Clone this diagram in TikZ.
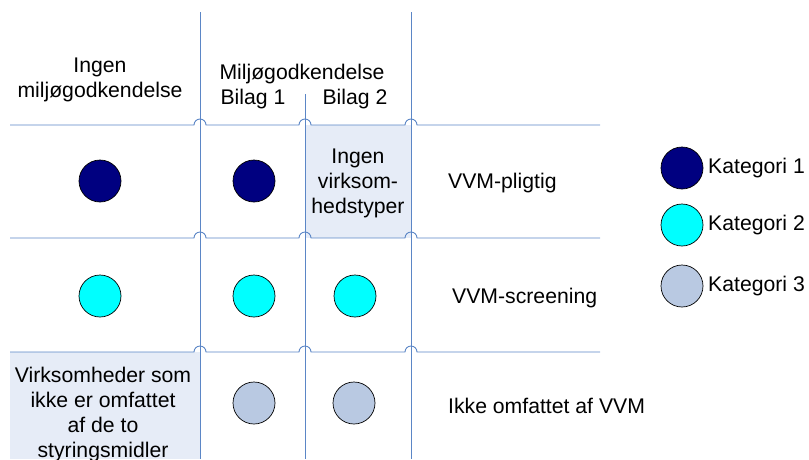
\documentclass[tikz,border=0pt]{standalone}
\usepackage{fontspec}
\setmainfont{Liberation Sans}
\definecolor{gridblue}{RGB}{91,134,198}
\definecolor{cellfill}{RGB}{230,236,247}
\definecolor{kat1}{RGB}{0,0,128}
\definecolor{kat2}{RGB}{0,255,255}
\definecolor{kat3}{RGB}{185,201,226}
\tikzset{
  gridline/.style={draw=gridblue, line width=0.9pt},
  dot/.style={circle, draw=black, line width=0.7pt, minimum size=42pt, inner sep=0pt},
  lbl/.style={inner sep=0pt, align=center, font=\fontsize{21.2}{25}\selectfont},
  shade/.style={fill=cellfill, draw=none}
}
\begin{document}
\begin{tikzpicture}[x=1pt, y=1pt]
\useasboundingbox (0,0) rectangle (809,-459);
\begin{scope}
\clip (0,0) rectangle (809,-459);

% shaded cells
\path[shade] (305,-125) rectangle (411,-238);
\path[shade] (10,-352) rectangle (200,-459);

% vertical separators
\draw[gridline] (200,-12) -- (200,-459);
\draw[gridline] (305,-94) -- (305,-459);
\draw[gridline] (411,-12) -- (411,-459);

% horizontal separators, hopping over the verticals
\foreach \y in {125,238,352}{
  \draw[gridline] (10,-\y) -- (194,-\y) arc[start angle=180,end angle=0,radius=6]
    -- (299,-\y) arc[start angle=180,end angle=0,radius=6]
    -- (405,-\y) arc[start angle=180,end angle=0,radius=6]
    -- (600,-\y);
}

% column headings
\node[lbl] (h0) at (100,-80) {Ingen\\miljøgodkendelse};
\node[lbl] (h1) at (302,-74) {Miljøgodkendelse};
\node[lbl] (b1) at (253,-99) {Bilag 1};
\node[lbl] (b2) at (355,-99) {Bilag 2};

% cell texts
\node[lbl] (none) at (358,-183) {Ingen\\virksom-\\hedstyper};
\node[lbl] (other) at (103,-415) {Virksomheder som\\ikke er omfattet\\af de to\\styringsmidler};

% row headings
\node[lbl, anchor=west] (r1) at (448,-183) {VVM-pligtig};
\node[lbl, anchor=west] (r2) at (452,-298) {VVM-screening};
\node[lbl, anchor=west] (r3) at (448,-406) {Ikke omfattet af VVM};

% category dots
\node[dot, fill=kat1] (a1) at (100,-181) {};
\node[dot, fill=kat1] (a2) at (254,-181) {};
\node[dot, fill=kat2] (b1d) at (100,-296) {};
\node[dot, fill=kat2] (b2d) at (254,-296) {};
\node[dot, fill=kat2] (b3d) at (355,-296) {};
\node[dot, fill=kat3] (c2) at (254,-403) {};
\node[dot, fill=kat3] (c3) at (354,-403) {};

% legend
\node[dot, fill=kat1] (l1) at (682,-168) {};
\node[dot, fill=kat2] (l2) at (682,-225) {};
\node[dot, fill=kat3] (l3) at (682,-286) {};
\node[lbl, anchor=west] (t1) at (708,-168) {Kategori 1};
\node[lbl, anchor=west] (t2) at (708,-225) {Kategori 2};
\node[lbl, anchor=west] (t3) at (708,-286) {Kategori 3};
\end{scope}
\end{tikzpicture}
\end{document}
